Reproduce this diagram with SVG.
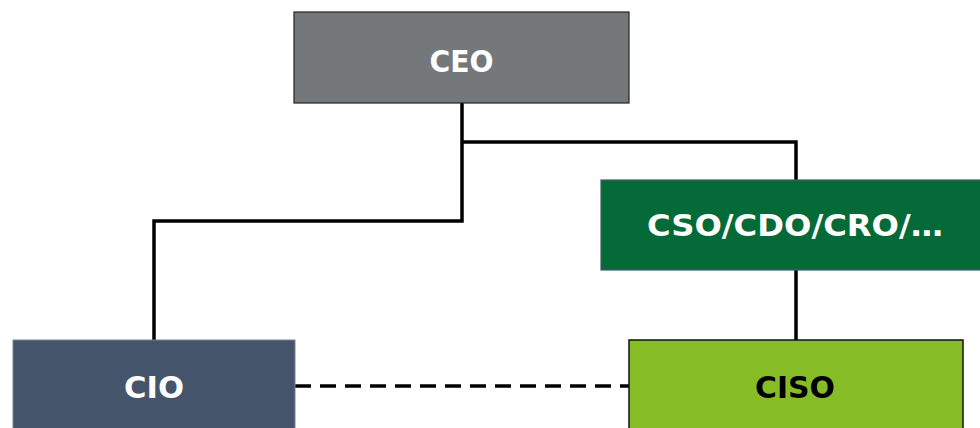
<svg xmlns="http://www.w3.org/2000/svg" width="980" height="428" viewBox="0 0 980 428">
<style>
.t{font-family:"DejaVu Sans",Verdana,sans-serif;font-weight:bold;font-size:30px;text-anchor:middle}
.w{fill:#ffffff}
.k{fill:#000000}
.c{fill:none;stroke:#000;stroke-width:3.5}
</style>
<rect width="980" height="428" fill="#ffffff"/>
<g id="connectors">
<polyline class="c" points="462,103 462,221 154,221 154,340"/>
<polyline class="c" points="462,142 796,142 796,180"/>
<line class="c" x1="796" y1="270" x2="796" y2="340"/>
<line class="c" x1="295" y1="386" x2="629" y2="386" stroke-dasharray="16,9"/>
</g>
<g id="ceo">
<rect x="294" y="12" width="335" height="91" fill="#75787b" stroke="#222" stroke-width="1.2"/>
<text class="t w" x="461.5" y="71.5" textLength="64" lengthAdjust="spacingAndGlyphs">CEO</text>
</g>
<g id="cso">
<rect x="601" y="180" width="390" height="90" fill="#046a38" stroke="#4a5a70" stroke-width="1.2"/>
<text class="t w" x="795" y="236" textLength="296" lengthAdjust="spacingAndGlyphs">CSO/CDO/CRO/…</text>
</g>
<g id="cio">
<rect x="13" y="340" width="282" height="100" fill="#44546a" stroke="#7a8494" stroke-width="1"/>
<text class="t w" x="154" y="397.5" textLength="60" lengthAdjust="spacingAndGlyphs">CIO</text>
</g>
<g id="ciso">
<rect x="629" y="340" width="334" height="100" fill="#86bc25" stroke="#111" stroke-width="1.5"/>
<text class="t k" x="795" y="398" textLength="80" lengthAdjust="spacingAndGlyphs">CISO</text>
</g>
</svg>
